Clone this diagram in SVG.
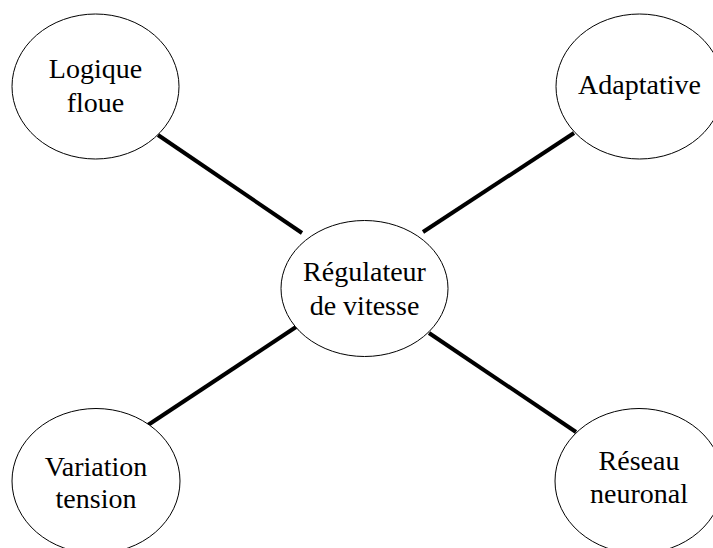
<svg xmlns="http://www.w3.org/2000/svg" width="713" height="548" viewBox="0 0 713 548">
  <style>
    .node ellipse { fill: #ffffff; stroke: #000000; stroke-width: 1; }
    .node text { font-family: "Liberation Serif", "Times New Roman", serif; font-size: 28px; fill: #000000; text-anchor: middle; }
    .edge { stroke: #000000; stroke-width: 4; stroke-linecap: butt; }
  </style>
  <rect width="713" height="548" fill="#ffffff"/>

  <!-- spokes from the hub to each method -->
  <g id="connectors">
    <line class="edge" x1="158" y1="135" x2="302" y2="233"/>
    <line class="edge" x1="574" y1="133" x2="423" y2="232"/>
    <line class="edge" x1="148" y1="425" x2="296" y2="327"/>
    <line class="edge" x1="576" y1="432" x2="429" y2="333"/>
  </g>

  <g id="hub" class="node">
    <ellipse cx="364.5" cy="288.5" rx="83.5" ry="68"/>
    <text x="364.5" y="281">Régulateur</text>
    <text x="364.5" y="315">de vitesse</text>
  </g>

  <g id="logique-floue" class="node">
    <ellipse cx="95.5" cy="86.5" rx="83.5" ry="72.5"/>
    <text x="95.5" y="78">Logique</text>
    <text x="95.5" y="112">floue</text>
  </g>

  <g id="adaptative" class="node">
    <ellipse cx="639.5" cy="86.5" rx="83.5" ry="72.5"/>
    <text x="639.5" y="94">Adaptative</text>
  </g>

  <g id="variation-tension" class="node">
    <ellipse cx="96" cy="481" rx="84" ry="72.5"/>
    <text x="96" y="476">Variation</text>
    <text x="96" y="508">tension</text>
  </g>

  <g id="reseau-neuronal" class="node">
    <ellipse cx="639" cy="481" rx="84" ry="72.5"/>
    <text x="639" y="470">Réseau</text>
    <text x="639" y="503">neuronal</text>
  </g>
</svg>
